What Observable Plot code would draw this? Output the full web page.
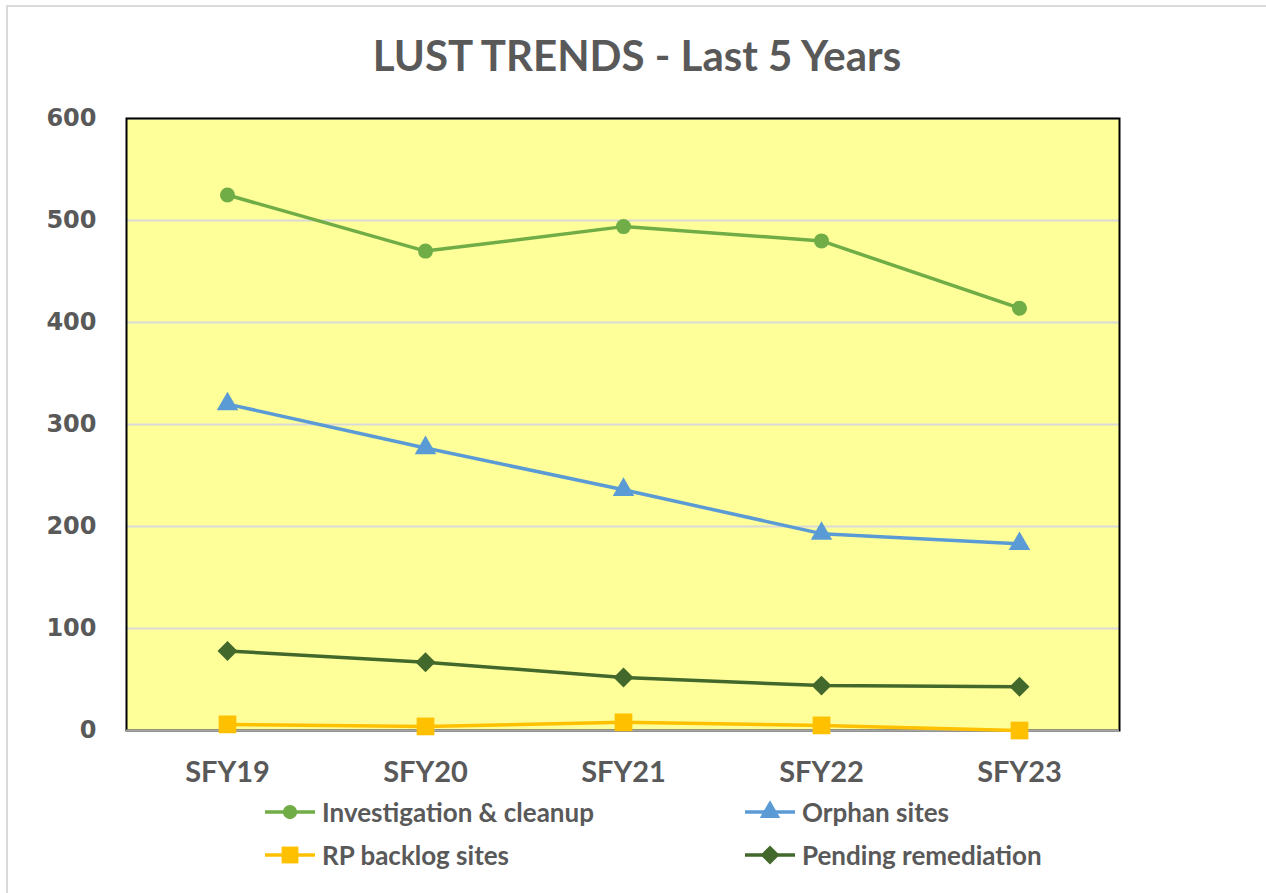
<!DOCTYPE html>
<html>
<head>
<meta charset="utf-8">
<script src="https://cdn.jsdelivr.net/npm/d3@7"></script>
<script src="https://cdn.jsdelivr.net/npm/@observablehq/plot@0.6"></script>
<style>
  html, body { margin: 0; padding: 0; background: #fff; }
  body { width: 1266px; height: 893px; position: relative; overflow: hidden; }
  #border { position: absolute; left: 6px; top: 5px; width: 1400px; height: 1000px;
            border-left: 2px solid #D9D9D9; border-top: 2px solid #D9D9D9; }
  #title { position: absolute; left: 4px; top: 34px; width: 1266px; text-align: center;
           font-family: Lato, sans-serif; font-weight: bold; font-size: 42px; line-height: 43px; color: #595959; }
  #chart { position: absolute; left: 0; top: 100px; }
  #legend { position: absolute; left: 265px; top: 790px; display: grid;
            grid-template-columns: 480px auto; grid-auto-rows: 43px; }
  .item { display: flex; align-items: center; font-family: Lato, sans-serif; font-weight: bold;
          font-size: 26px; color: #595959; }
  .item svg { margin-right: 7px; }
</style>
</head>
<body>
<div id="border"></div>
<div id="title">LUST TRENDS - Last 5 Years</div>
<div id="chart"></div>
<div id="legend"></div>
<script>
const years = ["SFY19", "SFY20", "SFY21", "SFY22", "SFY23"];
const investigation = [525, 470, 494, 480, 414];
const orphan = [320, 277, 236, 193, 183];
const rpBacklog = [6, 4, 8, 5, 0];
const pending = [78, 67, 52, 44, 43];
const yTicks = [0, 100, 200, 300, 400, 500, 600];

const seriesNames = ["Investigation & cleanup", "Orphan sites", "RP backlog sites", "Pending remediation"];
const seriesValues = [investigation, orphan, rpBacklog, pending];
const seriesColors = ["#70AD47", "#5B9BD5", "#FFC000", "#43682B"];
const seriesSymbols = ["circle", "triangle", "square", "diamond2"];
const seriesR = [7.5, 8, 10, 9];

const data = seriesNames.flatMap((s, i) => years.map((y, j) => ({series: s, year: y, value: seriesValues[i][j]})));

const marks = [
  Plot.frame({fill: "#FFFF99", stroke: null}),
  Plot.gridY({ticks: yTicks.filter(d => d > 0), stroke: "#D9D9D9", strokeOpacity: 1, strokeWidth: 2}),
  Plot.frame({stroke: "#000", strokeWidth: 2}),
  Plot.ruleY([0], {stroke: "#A6A6A6", strokeWidth: 2}),
  Plot.axisY({ticks: yTicks, tickSize: 0, tickPadding: 30, label: null,
    fontSize: 24, fontWeight: "bold", fontFamily: "DejaVu Sans", fill: "#595959"}),
  Plot.axisX({tickSize: 0, tickPadding: 31, label: null,
    fontSize: 29, fontWeight: "bold", fontFamily: "Lato", fill: "#595959"})
];
seriesNames.forEach((s, i) => {
  const d = data.filter(e => e.series === s);
  marks.push(Plot.line(d, {x: "year", y: "value", stroke: seriesColors[i], strokeWidth: 3.5}));
  marks.push(Plot.dot(d, {x: "year", y: "value", symbol: () => seriesSymbols[i], fill: seriesColors[i], stroke: null, r: seriesR[i]}));
});

const chart = Plot.plot({
  width: 1266,
  height: 700,
  marginLeft: 126,
  marginRight: 147,
  marginTop: 18,
  marginBottom: 70,
  style: {background: "transparent", overflow: "visible"},
  x: {type: "point", domain: years, padding: 0.5},
  y: {domain: [0, 600]},
  symbol: {type: "identity"},
  marks
});
document.getElementById("chart").appendChild(chart);

// legend
const legend = d3.select("#legend");
const symMap = {circle: d3.symbolCircle, triangle: d3.symbolTriangle, square: d3.symbolSquare, diamond2: d3.symbolDiamond2};
seriesNames.forEach((name, i) => {
  const item = legend.append("div").attr("class", "item");
  const sv = item.append("svg").attr("width", 50).attr("height", 24);
  sv.append("line").attr("x1", 0).attr("x2", 50).attr("y1", 12).attr("y2", 12)
    .attr("stroke", seriesColors[i]).attr("stroke-width", 3.5);
  const rr = seriesR[i] * 0.95;
  sv.append("path").attr("transform", "translate(25,12)")
    .attr("d", d3.symbol(symMap[seriesSymbols[i]], Math.PI * rr * rr)())
    .attr("fill", seriesColors[i]);
  item.append("span").text(name);
});
</script>
</body>
</html>
